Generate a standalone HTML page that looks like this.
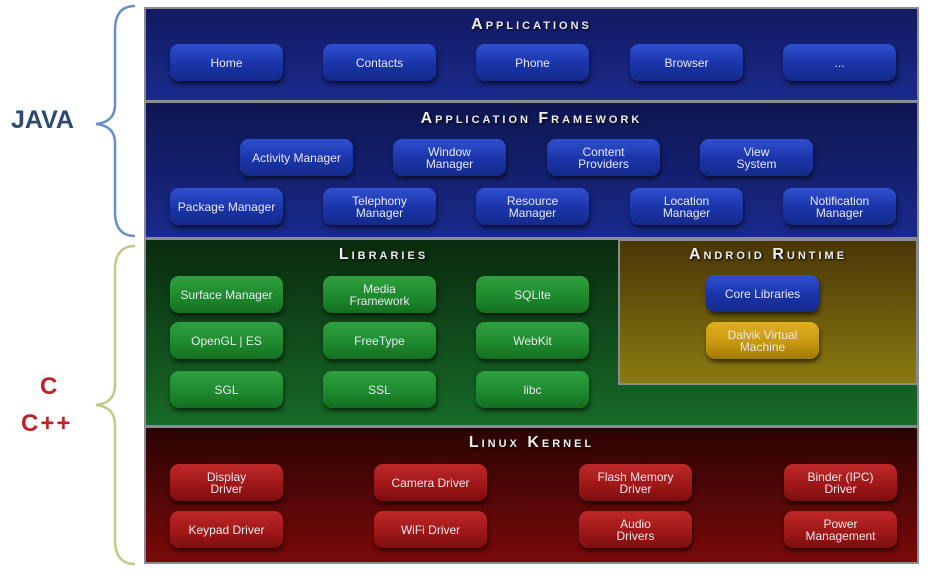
<!DOCTYPE html>
<html><head><meta charset="utf-8"><style>
body{margin:0;width:936px;height:579px;background:#fff;position:relative;overflow:hidden;font-family:"Liberation Sans",sans-serif}
.p{position:absolute;box-sizing:border-box;border:2px solid #8a8c94}
.t{position:absolute;left:0;right:0;text-align:center;color:#eee;font-weight:bold;font-size:16px;letter-spacing:3px;font-variant:small-caps;text-shadow:1px 1px 2px #000}
.b{position:absolute;width:113px;height:37px;border-radius:9px;color:#e8e8f0;font-size:12px;line-height:12px;display:flex;align-items:center;justify-content:center;text-align:center;box-shadow:1px 3px 4px rgba(0,0,0,.6)}
.bl{background:linear-gradient(#3050d0,#1a34a8 55%,#142a8a)}
.gr{background:linear-gradient(#2fa040,#1e8a2e 55%,#147020)}
.rd{background:linear-gradient(#c02828,#a01818 55%,#7c0e0e)}
.ye{background:linear-gradient(#e0b020,#c89810 55%,#a07a08)}
.lab{position:absolute;font-weight:bold}
</style></head><body>
<svg style="position:absolute;left:0;top:0" width="140" height="579">
<path d="M135,6 Q115,6 115,30 L115,105 Q115,122 96,124 Q115,126 115,143 L115,212 Q115,236 135,236" fill="none" stroke="#6a8fc0" stroke-width="2.5"/>
<path d="M135,246 Q115,246 115,270 L115,385 Q115,403 96,405 Q115,407 115,425 L115,540 Q115,564 135,564" fill="none" stroke="#c4c98a" stroke-width="2.5"/>
</svg>
<div class="lab" style="left:11px;top:106px;font-size:25px;color:#2d4a70">JAVA</div>
<div class="lab" style="left:40px;top:373px;font-size:24px;color:#c0202a">C</div>
<div class="lab" style="left:21px;top:410px;font-size:24px;color:#c0202a;letter-spacing:2px">C++</div>

<div class="p" style="left:144px;top:7px;width:775px;height:95px;background:linear-gradient(#111a60,#1a2a8c)"><div class="t" style="top:7px">Applications</div></div>
<div class="p" style="left:144px;top:101px;width:775px;height:138px;background:linear-gradient(#0e1650,#1a2a8c)"><div class="t" style="top:7px">Application Framework</div></div>
<div class="p" style="left:144px;top:238px;width:775px;height:189px;background:linear-gradient(#0a2a0e,#176a28)"><div class="t" style="top:6px;width:475px">Libraries</div></div>
<div class="p" style="left:618px;top:239px;width:300px;height:146px;background:linear-gradient(#4a3608,#8a7a10)"><div class="t" style="top:5px">Android Runtime</div></div>
<div class="p" style="left:144px;top:426px;width:775px;height:138px;background:linear-gradient(#2a0404,#7a0a0a)"><div class="t" style="top:6px">Linux Kernel</div></div>

<div class="b bl" style="left:170px;top:44px">Home</div>
<div class="b bl" style="left:323px;top:44px">Contacts</div>
<div class="b bl" style="left:476px;top:44px">Phone</div>
<div class="b bl" style="left:630px;top:44px">Browser</div>
<div class="b bl" style="left:783px;top:44px">...</div>

<div class="b bl" style="left:240px;top:139px">Activity Manager</div>
<div class="b bl" style="left:393px;top:139px">Window<br>Manager</div>
<div class="b bl" style="left:547px;top:139px">Content<br>Providers</div>
<div class="b bl" style="left:700px;top:139px">View<br>System</div>
<div class="b bl" style="left:170px;top:188px">Package Manager</div>
<div class="b bl" style="left:323px;top:188px">Telephony<br>Manager</div>
<div class="b bl" style="left:476px;top:188px">Resource<br>Manager</div>
<div class="b bl" style="left:630px;top:188px">Location<br>Manager</div>
<div class="b bl" style="left:783px;top:188px">Notification<br>Manager</div>

<div class="b gr" style="left:170px;top:276px">Surface Manager</div>
<div class="b gr" style="left:323px;top:276px">Media<br>Framework</div>
<div class="b gr" style="left:476px;top:276px">SQLite</div>
<div class="b gr" style="left:170px;top:322px">OpenGL | ES</div>
<div class="b gr" style="left:323px;top:322px">FreeType</div>
<div class="b gr" style="left:476px;top:322px">WebKit</div>
<div class="b gr" style="left:170px;top:371px">SGL</div>
<div class="b gr" style="left:323px;top:371px">SSL</div>
<div class="b gr" style="left:476px;top:371px">libc</div>

<div class="b bl" style="left:706px;top:275px">Core Libraries</div>
<div class="b ye" style="left:706px;top:322px">Dalvik Virtual<br>Machine</div>

<div class="b rd" style="left:170px;top:464px">Display<br>Driver</div>
<div class="b rd" style="left:374px;top:464px">Camera Driver</div>
<div class="b rd" style="left:579px;top:464px">Flash Memory<br>Driver</div>
<div class="b rd" style="left:784px;top:464px">Binder (IPC)<br>Driver</div>
<div class="b rd" style="left:170px;top:511px">Keypad Driver</div>
<div class="b rd" style="left:374px;top:511px">WiFi Driver</div>
<div class="b rd" style="left:579px;top:511px">Audio<br>Drivers</div>
<div class="b rd" style="left:784px;top:511px">Power<br>Management</div>
</body></html>
